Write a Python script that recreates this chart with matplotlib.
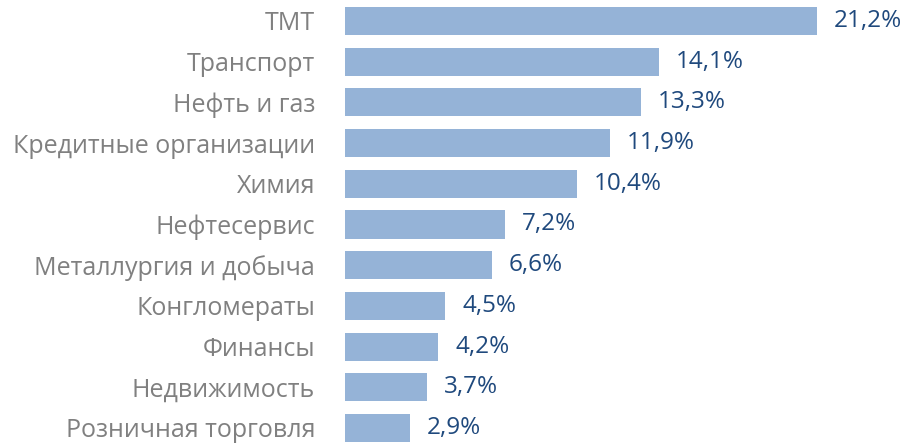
import matplotlib.pyplot as plt

categories = ['ТМТ', 'Транспорт', 'Нефть и газ', 'Кредитные организации', 'Химия',
              'Нефтесервис', 'Металлургия и добыча', 'Конгломераты', 'Финансы',
              'Недвижимость', 'Розничная торговля']
shares = [21.2, 14.1, 13.3, 11.9, 10.4, 7.2, 6.6, 4.5, 4.2, 3.7, 2.9]

W, H = 910, 443
fig = plt.figure(figsize=(W / 100, H / 100), dpi=100)
px_per_unit = 22.26
xmax = 25
ax = fig.add_axes([345 / W, 0, xmax * px_per_unit / W, 1])

y = list(range(len(categories)))
ax.barh(y, shares, height=0.69, color='#95B3D7')
ax.set_xlim(0, xmax)
ax.set_ylim(10.37, -0.516)

for yi, v in zip(y, shares):
    ax.annotate(f'{v:.1f}%'.replace('.', ','), xy=(v, yi), xytext=(17, 0),
                textcoords='offset pixels', va='center', ha='left',
                fontsize=17.5, color='#1F497D', family='Open Sans')

ax.set_yticks(y)
ax.set_yticklabels(categories, fontsize=18, color='#808080', family='Open Sans')
ax.tick_params(axis='y', length=0, pad=21.6)
ax.set_xticks([])
for s in ax.spines.values():
    s.set_visible(False)

fig.savefig('out.png', dpi=100)
